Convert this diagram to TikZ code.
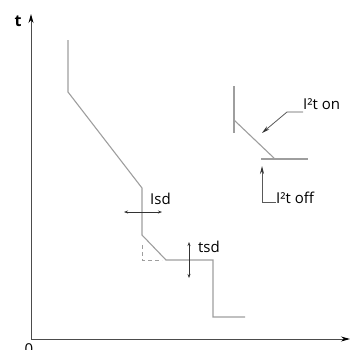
\documentclass[tikz,border=0pt]{standalone}
\usepackage{fontspec}
\setmainfont{Open Sans}
\usetikzlibrary{arrows.meta}
\begin{document}
\begin{tikzpicture}[x=1pt,y=-1pt,>=Stealth,
  curve/.style={draw=black!38,line width=1.1pt},
  axis/.style={draw=black!70,line width=0.9pt,-{Stealth[length=9pt,width=5pt,black]}},
  dimarrow/.style={draw=black!80,line width=0.6pt,{Stealth[length=4pt,width=3pt]}-{Stealth[length=4pt,width=3pt]}},
  leader/.style={draw=black!65,line width=0.8pt,-{Stealth[length=8pt,width=4pt,black!80]}},
  lbl/.style={font=\fontsize{15}{17}\selectfont,inner sep=0pt,anchor=west}]
\useasboundingbox (0,0) rectangle (350,349);
% axes
\coordinate (o) at (31,339);
\coordinate (ytip) at (31,14);
\coordinate (xtip) at (350,339);
\draw[axis] (o) -- (ytip);
\draw[axis] (o) -- (xtip);
\node[lbl,anchor=center,font=\fontsize{16}{18}\selectfont\bfseries] (t) at (18,21) {t};
\node[lbl,anchor=center] (zero) at (29,349) {0};
% tripping curve
\draw[curve] (68,40) -- (68,92) -- (142,188) -- (142,235) -- (166,260)
  -- (213,260) -- (213,317) -- (245,317);
\draw[curve,line width=0.9pt,dash pattern=on 4pt off 3pt] (142,245) -- (142,260) -- (162,260);
% Isd and tsd
\coordinate (isdl) at (124,212);
\coordinate (isdr) at (162,212);
\draw[dimarrow] (isdl) -- (isdr);
\node[lbl] (isd) at (150,199) {Isd};
\coordinate (tsdt) at (189,242);
\coordinate (tsdb) at (189,278);
\draw[dimarrow] (tsdt) -- (tsdb);
\node[lbl] (tsd) at (198,247) {tsd};
% I2t detail
\draw[curve] (234,86) -- (234,133);
\draw[curve] (234,120) -- (275,159);
\draw[curve] (261,159) -- (308,159);
\node[lbl] (i2ton) at (303,104) {I²t on};
\node[lbl] (i2toff) at (276,198) {I²t off};
\coordinate (ontip) at (262,133);
\coordinate (offtip) at (262,166);
\draw[leader] (i2ton.west|-0,112) -- (287,112) -- (ontip);
\draw[leader] (i2toff.west|-0,202) -- (262,202) -- (offtip);
\end{tikzpicture}
\end{document}
